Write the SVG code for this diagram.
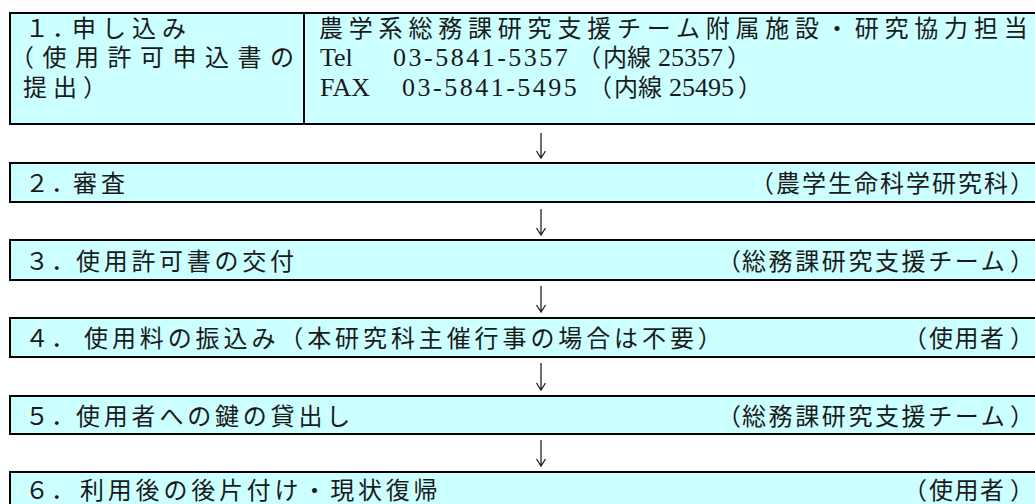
<svg xmlns="http://www.w3.org/2000/svg" width="1035" height="504" viewBox="0 0 1035 504">
<style>
.box{fill:#CCFFFF;stroke:#000;stroke-width:2}
.t{font-family:"Noto Sans CJK JP",sans-serif;font-size:24px;fill:#1a1a1a}
.l{font-family:"Liberation Serif",serif;font-size:26px;fill:#1a1a1a}
.arr{fill:none;stroke:#222;stroke-width:1.3}
</style>
<rect width="1035" height="504" fill="#fff"/>
<g id="step1">
<rect class="box" x="10" y="13" width="1030" height="111"/>
<line x1="304" y1="13" x2="304" y2="124" stroke="#000" stroke-width="2"/>
<text class="t" y="37"><tspan x="25">１</tspan><tspan x="52">．</tspan><tspan x="72" letter-spacing="6">申し込み</tspan></text>
<text class="t" y="66" x="10" letter-spacing="8.5">（使用許可申込書の</text>
<text class="t" y="96" x="23" letter-spacing="6">提出）</text>
<text class="t" y="37" x="319" letter-spacing="5.8">農学系総務課研究支援チーム附属施設・研究協力担当</text>
<text y="66"><tspan class="l" x="320">Tel</tspan><tspan class="l" x="393" letter-spacing="2.5">03-5841-5357</tspan><tspan class="t" x="577">（</tspan><tspan class="t" x="603">内線</tspan><tspan class="l" x="658">25357</tspan><tspan class="t" x="727">）</tspan></text>
<text y="96"><tspan class="l" x="320">FAX</tspan><tspan class="l" x="402" letter-spacing="2.5">03-5841-5495</tspan><tspan class="t" x="588">（</tspan><tspan class="t" x="614">内線</tspan><tspan class="l" x="669">25495</tspan><tspan class="t" x="738">）</tspan></text>
</g>
<g id="step2">
<rect class="box" x="10" y="163" width="1030" height="39"/>
<text class="t" y="192"><tspan x="25">２</tspan><tspan x="51">．</tspan><tspan x="73" letter-spacing="4">審査</tspan></text>
<text class="t" y="192"><tspan x="750">（</tspan><tspan x="776" letter-spacing="2">農学生命科学研究科</tspan><tspan x="1010">）</tspan></text>
</g>
<g id="step3">
<rect class="box" x="10" y="240" width="1030" height="40"/>
<text class="t" y="270"><tspan x="25">３</tspan><tspan x="51">．</tspan><tspan x="76" letter-spacing="3.7">使用許可書の交付</tspan></text>
<text class="t" y="270"><tspan x="717">（</tspan><tspan x="742" letter-spacing="2.6">総務課研究支援チーム</tspan><tspan x="1010">）</tspan></text>
</g>
<g id="step4">
<rect class="box" x="10" y="318" width="1030" height="39"/>
<text class="t" y="347"><tspan x="25">４</tspan><tspan x="51">．</tspan><tspan x="84" letter-spacing="3.9">使用料の振込み（本研究科主催行事の場合は不要）</tspan></text>
<text class="t" y="347"><tspan x="903">（</tspan><tspan x="929" letter-spacing="1.5">使用者</tspan><tspan x="1010">）</tspan></text>
</g>
<g id="step5">
<rect class="box" x="10" y="396" width="1030" height="38"/>
<text class="t" y="425"><tspan x="25">５</tspan><tspan x="51">．</tspan><tspan x="76" letter-spacing="3.8">使用者への鍵の貸出し</tspan></text>
<text class="t" y="425"><tspan x="717">（</tspan><tspan x="742" letter-spacing="2.6">総務課研究支援チーム</tspan><tspan x="1010">）</tspan></text>
</g>
<g id="step6">
<rect class="box" x="10" y="472" width="1030" height="40"/>
<text class="t" y="499"><tspan x="25">６</tspan><tspan x="51">．</tspan><tspan x="80" letter-spacing="3.8">利用後の後片付け・現状復帰</tspan></text>
<text class="t" y="499"><tspan x="903">（</tspan><tspan x="929" letter-spacing="1.5">使用者</tspan><tspan x="1010">）</tspan></text>
</g>
<g id="connectors">
<path class="arr" d="M541,133V158M536.5,151L541,158L545.5,151"/>
<path class="arr" d="M541,209V235M536.5,228L541,235L545.5,228"/>
<path class="arr" d="M541,286V312M536.5,305L541,312L545.5,305"/>
<path class="arr" d="M541,363V390M536.5,383L541,390L545.5,383"/>
<path class="arr" d="M541,440V466M536.5,459L541,466L545.5,459"/>
</g>
</svg>
